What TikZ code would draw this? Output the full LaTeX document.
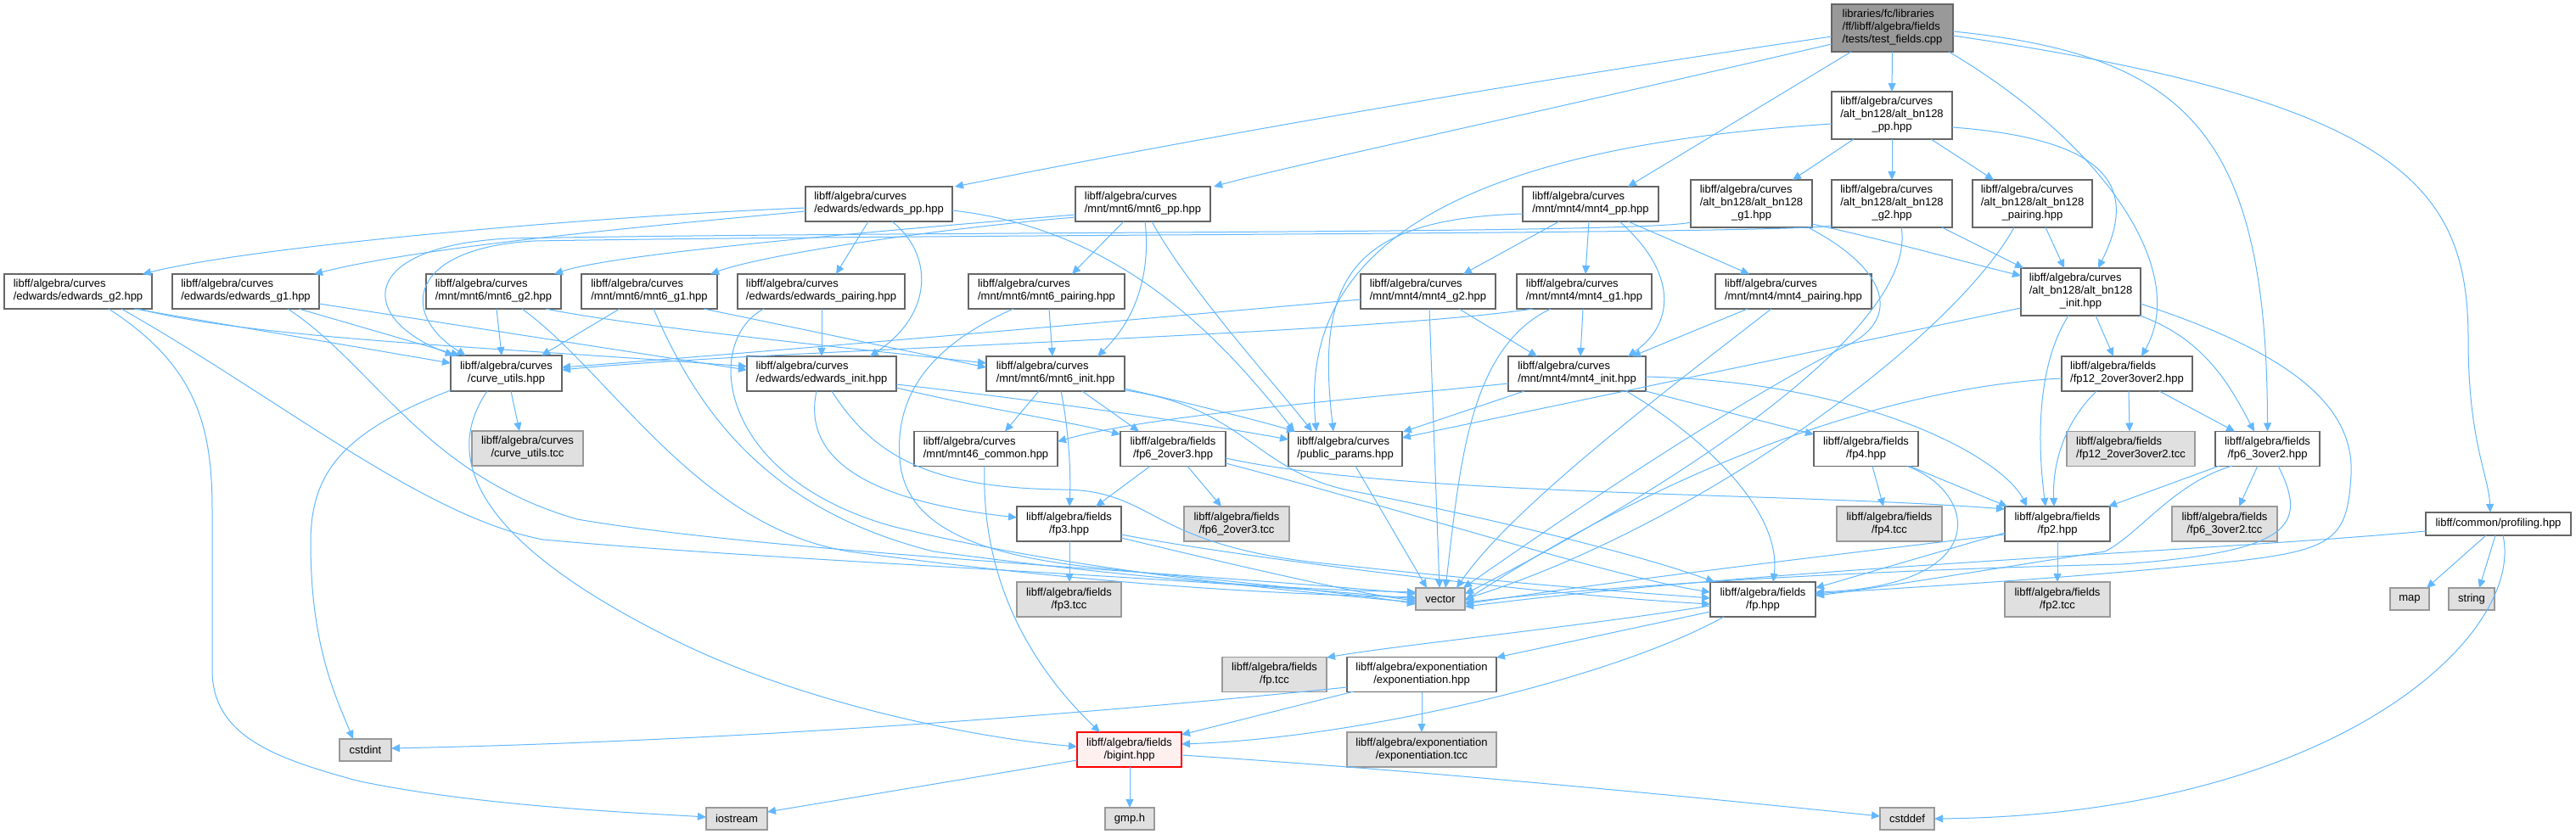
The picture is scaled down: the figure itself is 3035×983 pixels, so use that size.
\documentclass[tikz,border=0pt]{standalone}
\usepackage{fontspec}
\setmainfont{Liberation Sans}
\usetikzlibrary{calc,arrows.meta}
\definecolor{edgec}{HTML}{63B8FF}
\definecolor{bordc}{HTML}{666666}
\definecolor{grayb}{HTML}{999999}
\definecolor{grayf}{HTML}{E0E0E0}
\definecolor{rootf}{HTML}{999999}
\definecolor{bigf}{HTML}{FFF0F0}
\newcommand{\lb}[2]{\begin{tabular}{@{}l@{}}#1\\\multicolumn{1}{@{}c@{}}{#2}\end{tabular}}
\newcommand{\lc}[3]{\begin{tabular}{@{}l@{}}#1\\#2\\\multicolumn{1}{@{}c@{}}{#3}\end{tabular}}
\newcommand{\Lcv}{libff/algebra/curves}
\newcommand{\Lfd}{libff/algebra/fields}
\newcommand{\Lab}{/alt\_bn128/alt\_bn128}
\tikzset{
  box/.style={draw=bordc, fill=white, line width=0.6pt, inner sep=0pt, text=black,
    font=\fontsize{6.5pt}{7.5pt}\selectfont},
  gbox/.style={box, draw=grayb, fill=grayf},
  rbox/.style={box, fill=rootf},
  bbox/.style={box, draw=red, fill=bigf},
  lnk/.style={draw=edgec, line width=0.5pt, -{Triangle[length=5pt,width=4.5pt]}}
}
\begin{document}
\begin{tikzpicture}[x=0.5pt,y=-0.5pt]
\fill[white] (0,0) rectangle (3035,983);
\useasboundingbox (0,0) rectangle (3035,983);
% ---- nodes ----
\node[rbox,minimum width=71.5pt,minimum height=28pt] (root) at (2229.5,33) {\lc{libraries/fc/libraries}{/ff/libff/algebra/fields}{/tests/test\_fields.cpp}};
\node[box,minimum width=71pt,minimum height=28pt] (abpp) at (2229,136) {\lc{\Lcv}{\Lab}{\_pp.hpp}};
\node[box,minimum width=86.5pt,minimum height=20.5pt] (edpp) at (1035.5,240.5) {\lb{\Lcv}{/edwards/edwards\_pp.hpp}};
\node[box,minimum width=79.5pt,minimum height=20.5pt] (m6pp) at (1346.5,240.5) {\lb{\Lcv}{/mnt/mnt6/mnt6\_pp.hpp}};
\node[box,minimum width=80pt,minimum height=20.5pt] (m4pp) at (1874,240.5) {\lb{\Lcv}{/mnt/mnt4/mnt4\_pp.hpp}};
\node[box,minimum width=71.5pt,minimum height=28pt] (abg1) at (2063.5,240) {\lc{\Lcv}{\Lab}{\_g1.hpp}};
\node[box,minimum width=71pt,minimum height=28pt] (abg2) at (2229,240) {\lc{\Lcv}{\Lab}{\_g2.hpp}};
\node[box,minimum width=70.5pt,minimum height=28pt] (abpa) at (2394.5,240) {\lc{\Lcv}{\Lab}{\_pairing.hpp}};
\node[box,minimum width=87pt,minimum height=20.5pt] (edg2) at (92,343.5) {\lb{\Lcv}{/edwards/edwards\_g2.hpp}};
\node[box,minimum width=86.5pt,minimum height=20.5pt] (edg1) at (289.5,343.5) {\lb{\Lcv}{/edwards/edwards\_g1.hpp}};
\node[box,minimum width=79.5pt,minimum height=20.5pt] (m6g2) at (581.5,343.5) {\lb{\Lcv}{/mnt/mnt6/mnt6\_g2.hpp}};
\node[box,minimum width=80pt,minimum height=20.5pt] (m6g1) at (765,343.5) {\lb{\Lcv}{/mnt/mnt6/mnt6\_g1.hpp}};
\node[box,minimum width=98.5pt,minimum height=20.5pt] (edpa) at (967.5,343.5) {\lb{\Lcv}{/edwards/edwards\_pairing.hpp}};
\node[box,minimum width=92pt,minimum height=20.5pt] (m6pa) at (1233,343.5) {\lb{\Lcv}{/mnt/mnt6/mnt6\_pairing.hpp}};
\node[box,minimum width=79.5pt,minimum height=20.5pt] (m4g2) at (1682.5,343.5) {\lb{\Lcv}{/mnt/mnt4/mnt4\_g2.hpp}};
\node[box,minimum width=79.5pt,minimum height=20.5pt] (m4g1) at (1866.5,343.5) {\lb{\Lcv}{/mnt/mnt4/mnt4\_g1.hpp}};
\node[box,minimum width=92pt,minimum height=20.5pt] (m4pa) at (2113,343.5) {\lb{\Lcv}{/mnt/mnt4/mnt4\_pairing.hpp}};
\node[box,minimum width=70.5pt,minimum height=28pt] (abin) at (2451.5,344) {\lc{\Lcv}{\Lab}{\_init.hpp}};
\node[box,minimum width=65.5pt,minimum height=21pt] (cu) at (596.5,440) {\lb{\Lcv}{/curve\_utils.hpp}};
\node[box,minimum width=88pt,minimum height=20.5pt] (edin) at (968,440.5) {\lb{\Lcv}{/edwards/edwards\_init.hpp}};
\node[box,minimum width=81.5pt,minimum height=20.5pt] (m6in) at (1243.5,440.5) {\lb{\Lcv}{/mnt/mnt6/mnt6\_init.hpp}};
\node[box,minimum width=81pt,minimum height=20.5pt] (m4in) at (1858,440.5) {\lb{\Lcv}{/mnt/mnt4/mnt4\_init.hpp}};
\node[box,minimum width=77pt,minimum height=20.5pt] (f12) at (2506,440.5) {\lb{\Lfd}{/fp12\_2over3over2.hpp}};
\node[gbox,minimum width=65.5pt,minimum height=20.5pt] (cut) at (621.5,528.5) {\lb{\Lcv}{/curve\_utils.tcc}};
\node[box,minimum width=84.5pt,minimum height=20.5pt] (m46) at (1161.5,529) {\lb{\Lcv}{/mnt/mnt46\_common.hpp}};
\node[box,minimum width=62pt,minimum height=20.5pt] (f6a) at (1382,529) {\lb{\Lfd}{/fp6\_2over3.hpp}};
\node[box,minimum width=67pt,minimum height=20.5pt] (pp) at (1585,529) {\lb{\Lcv}{/public\_params.hpp}};
\node[box,minimum width=61.5pt,minimum height=20.5pt] (f4) at (2198.5,529) {\lb{\Lfd}{/fp4.hpp}};
\node[gbox,minimum width=75.5pt,minimum height=20.5pt] (f12t) at (2510.5,529) {\lb{\Lfd}{/fp12\_2over3over2.tcc}};
\node[box,minimum width=61.5pt,minimum height=20.5pt] (f6b) at (2671.5,529) {\lb{\Lfd}{/fp6\_3over2.hpp}};
\node[box,minimum width=61.5pt,minimum height=20.5pt] (f3) at (1259.5,617.5) {\lb{\Lfd}{/fp3.hpp}};
\node[gbox,minimum width=62pt,minimum height=20.5pt] (f6at) at (1457,617.5) {\lb{\Lfd}{/fp6\_2over3.tcc}};
\node[gbox,minimum width=62pt,minimum height=20.5pt] (f4t) at (2226,617.5) {\lb{\Lfd}{/fp4.tcc}};
\node[box,minimum width=62pt,minimum height=20.5pt] (f2) at (2424,617.5) {\lb{\Lfd}{/fp2.hpp}};
\node[gbox,minimum width=62pt,minimum height=20.5pt] (f6bt) at (2621,617.5) {\lb{\Lfd}{/fp6\_3over2.tcc}};
\node[box,minimum width=85.5pt,minimum height=13.5pt] (prof) at (2943.5,617.5) {libff/common/profiling.hpp};
\node[gbox,minimum width=61.5pt,minimum height=20.5pt] (f3t) at (1259.5,706.5) {\lb{\Lfd}{/fp3.tcc}};
\node[gbox,minimum width=29pt,minimum height=13pt] (vec) at (1697,706) {vector};
\node[box,minimum width=62pt,minimum height=20.5pt] (fp) at (2077,706.5) {\lb{\Lfd}{/fp.hpp}};
\node[gbox,minimum width=62pt,minimum height=20.5pt] (f2t) at (2424,706.5) {\lb{\Lfd}{/fp2.tcc}};
\node[gbox,minimum width=23pt,minimum height=13pt] (map) at (2839,706) {map};
\node[gbox,minimum width=27pt,minimum height=13pt] (str) at (2912,706) {string};
\node[gbox,minimum width=61.5pt,minimum height=20.5pt] (fpt) at (1501.5,795) {\lb{\Lfd}{/fp.tcc}};
\node[box,minimum width=88pt,minimum height=20.5pt] (exh) at (1675,795) {\lb{libff/algebra/exponentiation}{/exponentiation.hpp}};
\node[gbox,minimum width=30.5pt,minimum height=13pt] (csi) at (430.5,884) {cstdint};
\node[bbox,minimum width=61.5pt,minimum height=20.5pt] (bi) at (1330.5,883.5) {\lb{\Lfd}{/bigint.hpp}};
\node[gbox,minimum width=88pt,minimum height=20.5pt] (ext) at (1675,883.5) {\lb{libff/algebra/exponentiation}{/exponentiation.tcc}};
\node[gbox,minimum width=36pt,minimum height=13pt] (ios) at (868,965) {iostream};
\node[gbox,minimum width=29pt,minimum height=13pt] (gmp) at (1331,965) {gmp.h};
\node[gbox,minimum width=32pt,minimum height=13pt] (csd) at (2247,965) {cstddef};
% ---- edges: root ----
\draw[lnk] ($(root)+(0,28)$) -- ($(abpp)+(0,-28)$);
\draw[lnk] ($(root)+(-71.5,10)$) .. controls (1700,110) and (1350,175) .. ($(edpp)+(89.5,-20.5)$);
\draw[lnk] ($(root)+(-71.5,19)$) .. controls (1800,135) and (1500,200) .. ($(m6pp)+(83.5,-20.5)$);
\draw[lnk] ($(root)+(-48.5,28)$) -- ($(m4pp)+(44,-20.5)$);
\draw[lnk] ($(root)+(66.5,28)$) .. controls (2480,170) and (2580,320) .. ($(f12)+(17,-20.5)$);
\draw[lnk] ($(root)+(71.5,4)$) .. controls (2580,65) and (2671,160) .. ($(f6b)+(0,-20.5)$);
\draw[lnk] ($(root)+(71.5,9)$) .. controls (2830,120) and (2908,220) .. (2908,400) .. controls (2908,520) and (2932,560) .. ($(prof)+(-9.5,-13.5)$);
% ---- alt_bn128_pp ----
\draw[lnk] ($(abpp)+(0,28)$) -- ($(abg2)+(0,-28)$);
\draw[lnk] ($(abpp)+(-45,28)$) -- ($(abg1)+(48.5,-28)$);
\draw[lnk] ($(abpp)+(46,28)$) -- ($(abpa)+(-45.5,-28)$);
\draw[lnk] ($(abpp)+(71,14)$) .. controls (2500,165) and (2515,230) .. ($(abin)+(20.5,-28)$);
\draw[lnk] ($(abpp)+(-71,10)$) .. controls (1700,175) and (1530,300) .. ($(pp)+(-34,-20.5)$);
% ---- edwards_pp ----
\draw[lnk] ($(edpp)+(-86.5,4.5)$) .. controls (700,255) and (300,290) .. ($(edg2)+(76,-20.5)$);
\draw[lnk] ($(edpp)+(-86.5,8.5)$) .. controls (780,265) and (500,290) .. ($(edg1)+(80.5,-20.5)$);
\draw[lnk] ($(edpp)+(-12.5,20.5)$) -- ($(edpa)+(17.5,-20.5)$);
\draw[lnk] ($(edpp)+(15.5,20.5)$) .. controls (1100,300) and (1100,370) .. ($(edin)+(57,-20.5)$);
\draw[lnk] ($(edpp)+(86.5,7.5)$) .. controls (1320,270) and (1440,400) .. ($(pp)+(-60,-20.5)$);
% ---- mnt6_pp ----
\draw[lnk] ($(m6pp)+(-79.5,12.5)$) .. controls (1000,275) and (720,300) .. ($(m6g2)+(71.5,-20.5)$);
\draw[lnk] ($(m6pp)+(-79.5,15.5)$) .. controls (1100,270) and (900,300) .. ($(m6g1)+(72,-20.5)$);
\draw[lnk] ($(m6pp)+(-22.5,20.5)$) -- ($(m6pa)+(30,-20.5)$);
\draw[lnk] ($(m6pp)+(2.5,20.5)$) .. controls (1355,310) and (1345,370) .. ($(m6in)+(49.5,-20.5)$);
\draw[lnk] ($(m6pp)+(10.5,20.5)$) .. controls (1400,340) and (1500,450) .. ($(pp)+(-39,-20.5)$);
% ---- mnt4_pp ----
\draw[lnk] ($(m4pp)+(-37,20.5)$) -- ($(m4g2)+(41.5,-20.5)$);
\draw[lnk] ($(m4pp)+(-2,20.5)$) -- ($(m4g1)+(1.5,-20.5)$);
\draw[lnk] ($(m4pp)+(44,20.5)$) -- ($(m4pa)+(-52,-20.5)$);
\draw[lnk] ($(m4pp)+(34,20.5)$) .. controls (1975,320) and (1975,380) .. ($(m4in)+(60,-20.5)$);
\draw[lnk] ($(m4pp)+(-80,11.5)$) .. controls (1590,258) and (1550,330) .. ($(pp)+(-14,-20.5)$);
% ---- alt_bn128 g1/g2/pairing ----
\draw[lnk] ($(abg1)+(-71.5,22)$) .. controls (1940,276) and (1100,272) .. (600,281) .. controls (420,290) and (420,375) .. ($(cu)+(-62,-21)$);
\draw[lnk] ($(abg2)+(-71,26)$) .. controls (2100,276) and (1100,276) .. (630,284) .. controls (480,292) and (470,370) .. ($(cu)+(-48,-21)$);
\draw[lnk] ($(abg1)+(71.5,24)$) .. controls (2230,285) and (2300,305) .. ($(abin)+(-70.5,-19)$);
\draw[lnk] ($(abg1)+(66.5,28)$) .. controls (2230,320) and (2240,380) .. (2170,410) .. controls (2000,500) and (1800,640) .. ($(vec)+(27,-13)$);
\draw[lnk] ($(abg2)+(11,28)$) .. controls (2260,380) and (2000,560) .. ($(vec)+(29,-6)$);
\draw[lnk] ($(abg2)+(59,28)$) -- ($(abin)+(-67.5,-28)$);
\draw[lnk] ($(abpa)+(-21.5,28)$) .. controls (2300,400) and (2000,620) .. ($(vec)+(29,0)$);
\draw[lnk] ($(abpa)+(15.5,28)$) -- ($(abin)+(-19.5,-28)$);
% ---- edwards g2/g1/pairing ----
\draw[lnk] ($(edg2)+(51,20.5)$) .. controls (330,470) and (500,610) .. (640,636) .. controls (900,660) and (1400,680) .. ($(vec)+(-29,0)$);
\draw[lnk] ($(edg2)+(66,20.5)$) -- ($(cu)+(-65.5,-12)$);
\draw[lnk] ($(edg2)+(71,20.5)$) .. controls (300,400) and (600,410) .. ($(edin)+(-88,-8.5)$);
\draw[lnk] ($(edg2)+(36,20.5)$) .. controls (230,430) and (250,500) .. (250,600) -- (250,790) .. controls (250,870) and (330,895) .. (420,920) .. controls (560,950) and (750,958) .. ($(ios)+(-36,-2)$);
\draw[lnk] ($(edg1)+(49.5,20.5)$) .. controls (440,430) and (500,560) .. (680,612) .. controls (900,650) and (1400,675) .. ($(vec)+(-29,-6)$);
\draw[lnk] ($(edg1)+(62.5,20.5)$) -- ($(cu)+(-55,-21)$);
\draw[lnk] ($(edg1)+(86.5,14.5)$) -- ($(edin)+(-88,-4.5)$);
\draw[lnk] ($(edpa)+(-67.5,20.5)$) .. controls (830,400) and (840,560) .. (1050,620) .. controls (1250,670) and (1500,695) .. ($(vec)+(-29,4)$);
\draw[lnk] ($(edpa)+(0.5,20.5)$) -- ($(edin)+(0,-20.5)$);
% ---- mnt6 g2/g1/pairing ----
\draw[lnk] ($(m6g2)+(33.5,20.5)$) .. controls (720,440) and (820,620) .. (1000,650) .. controls (1300,690) and (1500,700) .. ($(vec)+(-29,-2)$);
\draw[lnk] ($(m6g2)+(3.5,20.5)$) -- ($(cu)+(-5.5,-21)$);
\draw[lnk] ($(m6g2)+(61.5,20.5)$) .. controls (720,380) and (900,400) .. ($(m6in)+(-81.5,-12.5)$);
\draw[lnk] ($(m6g1)+(5,20.5)$) .. controls (820,480) and (900,600) .. (1100,650) .. controls (1400,690) and (1550,695) .. ($(vec)+(-29,-8)$);
\draw[lnk] ($(m6g1)+(-35,20.5)$) -- ($(cu)+(41.5,-21)$);
\draw[lnk] ($(m6g1)+(64,20.5)$) -- ($(m6in)+(-81.5,-7.5)$);
\draw[lnk] ($(m6pa)+(-39,20.5)$) .. controls (1090,410) and (1055,470) .. (1060,540) .. controls (1065,620) and (1150,655) .. (1300,670) .. controls (1450,685) and (1600,700) .. ($(vec)+(-29,6)$);
\draw[lnk] ($(m6pa)+(3,20.5)$) -- ($(m6in)+(-3.5,-20.5)$);
% ---- mnt4 g2/g1/pairing ----
\draw[lnk] ($(m4g2)+(1.5,20.5)$) -- ($(vec)+(-1,-13)$);
\draw[lnk] ($(m4g2)+(-79.5,9.5)$) .. controls (1300,380) and (900,415) .. ($(cu)+(65.5,-7)$);
\draw[lnk] ($(m4g2)+(36.5,20.5)$) -- ($(m4in)+(-47,-20.5)$);
\draw[lnk] ($(m4g1)+(-39.5,20.5)$) .. controls (1730,410) and (1720,550) .. ($(vec)+(6,-13)$);
\draw[lnk] ($(m4g1)+(-60.5,20.5)$) .. controls (1600,395) and (900,412) .. ($(cu)+(65.5,-4)$);
\draw[lnk] ($(m4g1)+(-1.5,20.5)$) -- ($(m4in)+(4,-20.5)$);
\draw[lnk] ($(m4pa)+(-26,20.5)$) .. controls (1950,470) and (1780,600) .. ($(vec)+(19,-13)$);
\draw[lnk] ($(m4pa)+(-54,20.5)$) -- ($(m4in)+(65,-20.5)$);
% ---- edwards_init ----
\draw[lnk] ($(edin)+(88,12.5)$) .. controls (1250,475) and (1420,500) .. ($(pp)+(-67,-11)$);
\draw[lnk] ($(edin)+(88,16.5)$) .. controls (1150,480) and (1250,495) .. ($(f6a)+(-62,-17)$);
\draw[lnk] ($(edin)+(-6,20.5)$) .. controls (945,540) and (1020,590) .. ($(f3)+(-61.5,-7.5)$);
\draw[lnk] ($(edin)+(12,20.5)$) .. controls (1030,540) and (1100,575) .. (1250,577) .. controls (1360,577) and (1350,640) .. (1550,663) .. controls (1800,690) and (1950,700) .. ($(fp)+(-62,-1.5)$);
% ---- mnt6_init ----
\draw[lnk] ($(m6in)+(-19.5,20.5)$) -- ($(m46)+(22.5,-20.5)$);
\draw[lnk] ($(m6in)+(6.5,20.5)$) .. controls (1258,500) and (1262,550) .. ($(f3)+(0.5,-20.5)$);
\draw[lnk] ($(m6in)+(31.5,20.5)$) -- ($(f6a)+(-40,-20.5)$);
\draw[lnk] ($(m6in)+(81.5,17.5)$) .. controls (1400,475) and (1480,495) .. ($(pp)+(-59,-20.5)$);
\draw[lnk] ($(m6in)+(81.5,19.5)$) .. controls (1470,480) and (1480,560) .. (1600,580) .. controls (1800,620) and (1950,660) .. ($(fp)+(-57,-20.5)$);
% ---- mnt4_init ----
\draw[lnk] ($(m4in)+(-81,11.5)$) .. controls (1600,470) and (1350,490) .. ($(m46)+(84.5,-8.5)$);
\draw[lnk] ($(m4in)+(-62,20.5)$) -- ($(pp)+(68,-20)$);
\draw[lnk] ($(m4in)+(58,20.5)$) .. controls (2000,510) and (2100,600) .. ($(fp)+(12,-20.5)$);
\draw[lnk] ($(m4in)+(81,20.5)$) -- ($(f4)+(-61.5,-17)$);
\draw[lnk] ($(m4in)+(81,3.5)$) .. controls (2200,450) and (2360,540) .. ($(f2)+(-36,-20.5)$);
% ---- alt_bn128_init ----
\draw[lnk] ($(abin)+(17.5,28)$) -- ($(f12)+(-16,-20.5)$);
\draw[lnk] ($(abin)+(-14.5,28)$) .. controls (2400,430) and (2400,520) .. ($(f2)+(-14,-20.5)$);
\draw[lnk] ($(abin)+(69.5,28)$) .. controls (2600,400) and (2630,460) .. ($(f6b)+(-15.5,-20.5)$);
\draw[lnk] ($(abin)+(70.5,14)$) .. controls (2680,410) and (2775,470) .. (2770,560) .. controls (2765,640) and (2750,650) .. (2600,665) .. controls (2400,685) and (2200,695) .. ($(fp)+(62,-6.5)$);
\draw[lnk] ($(abin)+(-70.5,19)$) -- ($(pp)+(67,-13)$);
% ---- fp12 ----
\draw[lnk] ($(f12)+(2,20.5)$) -- ($(f12t)+(-1.5,-20.5)$);
\draw[lnk] ($(f12)+(38,20.5)$) -- ($(f6b)+(-38.5,-20.5)$);
\draw[lnk] ($(f12)+(-36,20.5)$) .. controls (2430,500) and (2418,550) .. ($(f2)+(-4,-20.5)$);
\draw[lnk] ($(f12)+(-77,5.5)$) .. controls (2250,455) and (2000,530) .. ($(vec)+(29,2)$);
% ---- fp6_3over2 ----
\draw[lnk] ($(f6b)+(-11.5,20)$) -- ($(f6bt)+(17,-20.5)$);
\draw[lnk] ($(f6b)+(-56.5,20)$) -- ($(f2)+(60,-20.5)$);
\draw[lnk] ($(f6b)+(-41.5,20)$) .. controls (2560,570) and (2520,630) .. (2480,650) .. controls (2350,670) and (2200,695) .. ($(fp)+(62,-4.5)$);
\draw[lnk] ($(f6b)+(12.5,20)$) .. controls (2720,620) and (2700,650) .. (2500,665) .. controls (2200,672) and (1900,690) .. ($(vec)+(29,4)$);
% ---- fp6_2over3 ----
\draw[lnk] ($(f6a)+(17,20.5)$) -- ($(f6at)+(-18,-20.5)$);
\draw[lnk] ($(f6a)+(-27,20.5)$) -- ($(f3)+(31.5,-20.5)$);
\draw[lnk] ($(f6a)+(62,11)$) .. controls (1650,585) and (2100,580) .. ($(f2)+(-62,-17.5)$);
\draw[lnk] ($(f6a)+(62,17)$) .. controls (1650,600) and (1900,680) .. ($(fp)+(-62,-8.5)$);
% ---- fp4 ----
\draw[lnk] ($(f4)+(7.5,20.5)$) -- ($(f4t)+(-7,-20.5)$);
\draw[lnk] ($(f4)+(51.5,20.5)$) -- ($(f2)+(-59,-20.5)$);
\draw[lnk] ($(f4)+(48.5,20.5)$) .. controls (2330,580) and (2350,690) .. ($(fp)+(62,-8.5)$);
% ---- fp3, fp2, public_params ----
\draw[lnk] ($(f3)+(0.5,20.5)$) -- ($(f3t)+(0.5,-20.5)$);
\draw[lnk] ($(f3)+(61.5,12.5)$) .. controls (1450,655) and (1800,700) .. ($(fp)+(-62,5.5)$);
\draw[lnk] ($(f3)+(61.5,16.5)$) .. controls (1450,665) and (1600,700) .. ($(vec)+(-29,2)$);
\draw[lnk] ($(f2)+(0,20.5)$) -- ($(f2t)+(0,-20.5)$);
\draw[lnk] ($(f2)+(-62,10.5)$) -- ($(fp)+(62,-13.5)$);
\draw[lnk] ($(f2)+(-62,12.5)$) .. controls (2150,655) and (1900,685) .. ($(vec)+(29,6)$);
\draw[lnk] ($(pp)+(12,20.5)$) -- ($(vec)+(-16,-13)$);
% ---- curve_utils, mnt46_common ----
\draw[lnk] ($(cu)+(5.5,21)$) -- ($(cut)+(-9.5,-20.5)$);
\draw[lnk] ($(cu)+(-65.5,20)$) .. controls (400,510) and (366,560) .. (366,640) .. controls (366,760) and (395,820) .. ($(csi)+(-14.5,-13)$);
\draw[lnk] ($(cu)+(-22.5,21)$) .. controls (520,540) and (560,640) .. (800,757) .. controls (950,830) and (1150,870) .. ($(bi)+(-61.5,-3.5)$);
\draw[lnk] ($(m46)+(-1.5,20.5)$) .. controls (1155,700) and (1230,800) .. ($(bi)+(-34.5,-20.5)$);
% ---- fp, exponentiation, bigint ----
\draw[lnk] ($(fp)+(-62,7.5)$) .. controls (1850,740) and (1650,760) .. ($(fpt)+(61.5,-20)$);
\draw[lnk] ($(fp)+(-62,14.5)$) -- ($(exh)+(88,-20)$);
\draw[lnk] ($(fp)+(-46,20.5)$) .. controls (1900,800) and (1600,870) .. ($(bi)+(61.5,-6.5)$);
\draw[lnk] ($(exh)+(0,20.5)$) -- ($(ext)+(0,-20.5)$);
\draw[lnk] ($(exh)+(-80,20)$) -- ($(bi)+(61.5,-17.5)$);
\draw[lnk] ($(exh)+(-88,15)$) .. controls (1200,850) and (800,875) .. ($(csi)+(30.5,-2)$);
\draw[lnk] ($(bi)+(-61.5,12.5)$) -- ($(ios)+(36,-8)$);
\draw[lnk] ($(bi)+(0.5,20.5)$) -- ($(gmp)+(0,-13)$);
\draw[lnk] ($(bi)+(61.5,6.5)$) .. controls (1700,910) and (2000,940) .. ($(csd)+(-32,-3)$);
% ---- profiling ----
\draw[lnk] ($(prof)+(-14.5,13.5)$) -- ($(map)+(20,-13)$);
\draw[lnk] ($(prof)+(-3.5,13.5)$) -- ($(str)+(9,-13)$);
\draw[lnk] ($(prof)+(5.5,13.5)$) .. controls (2975,750) and (2750,960) .. ($(csd)+(32,0)$);
\draw[lnk] ($(prof)+(-85.5,8.5)$) .. controls (2600,650) and (2100,668) .. ($(vec)+(29,9)$);
\end{tikzpicture}
\end{document}
